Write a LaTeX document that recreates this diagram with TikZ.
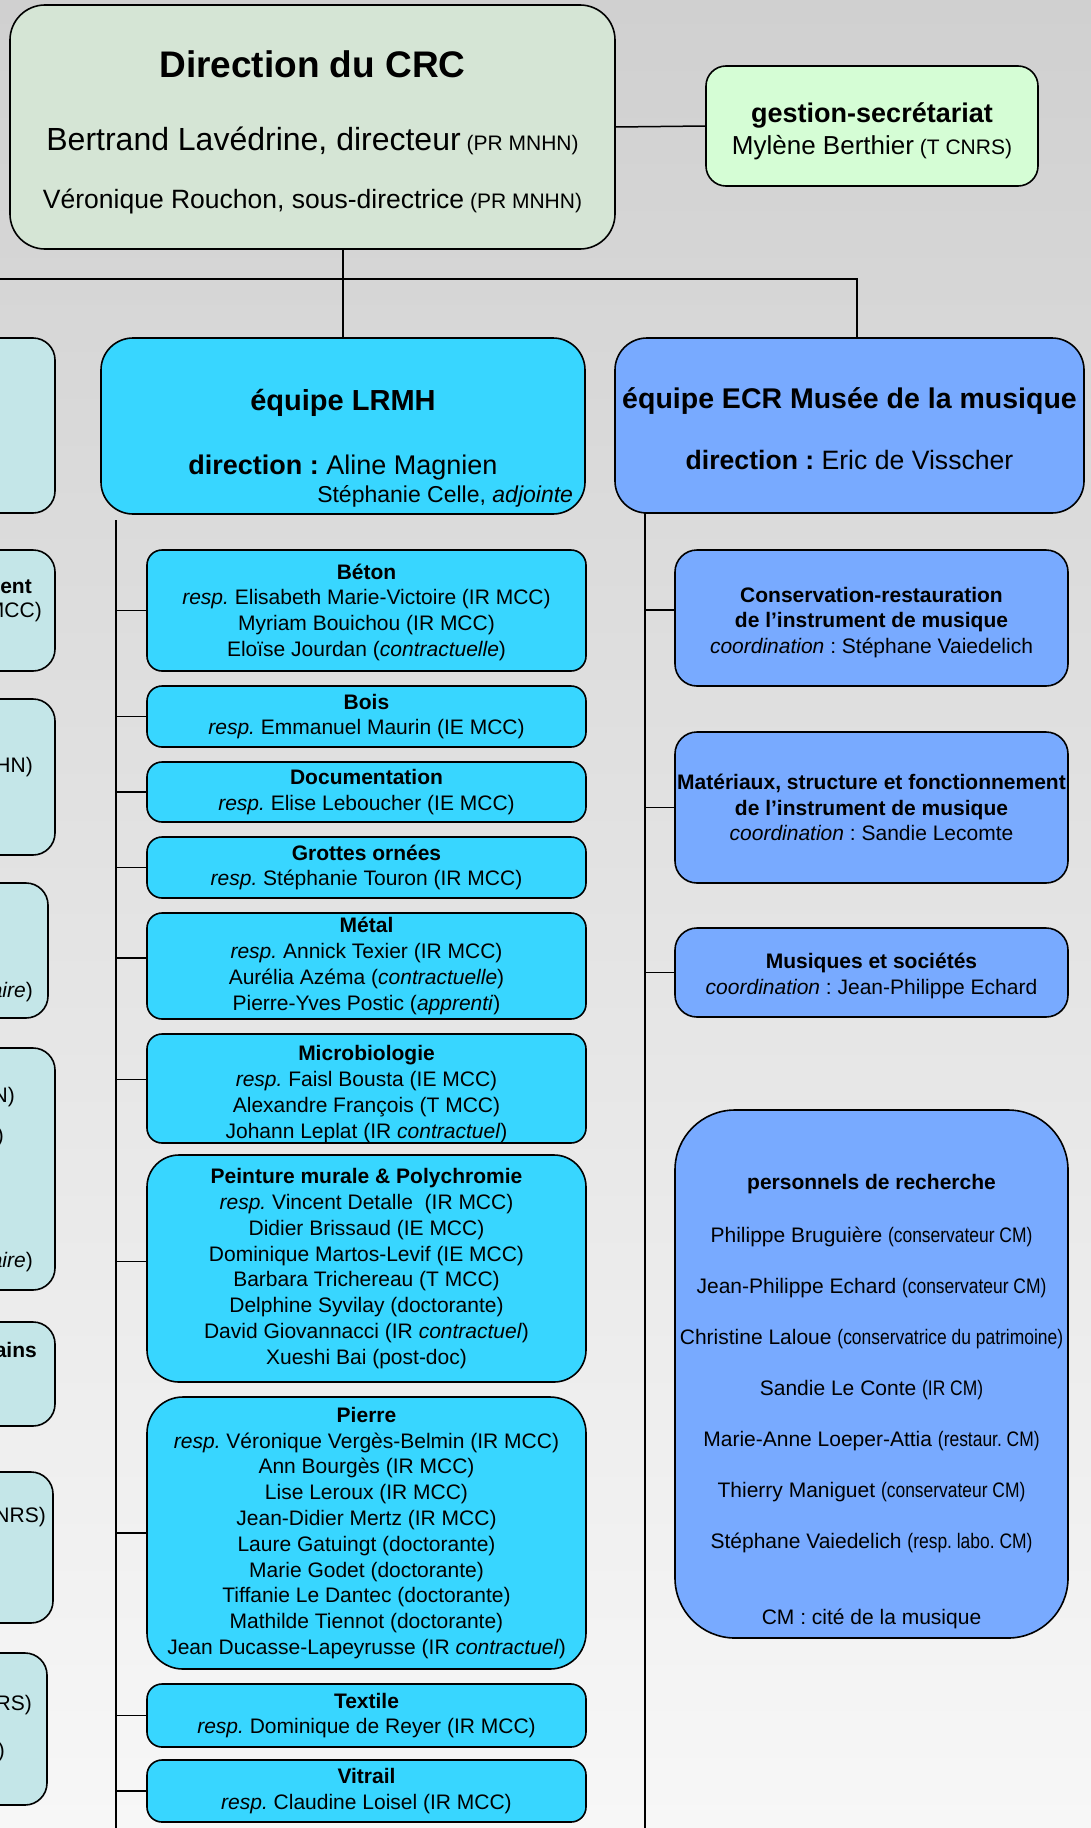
\documentclass[tikz,border=0pt]{standalone}
\usepackage{fontspec}
\setmainfont{Liberation Sans}
\newfontfamily\narrowfont[FakeStretch=0.83]{Liberation Sans}
\definecolor{crcBgTop}{HTML}{D0D0D0}
\definecolor{crcBgBottom}{HTML}{F7F7F7}
\definecolor{crcDir}{HTML}{D5E5D5}
\definecolor{crcSec}{HTML}{D5FDD5}
\definecolor{crcLrmh}{HTML}{38D6FF}
\definecolor{crcEcr}{HTML}{78AAFF}
\definecolor{crcSide}{HTML}{C4E6E8}
\usetikzlibrary{calc,positioning}
\frenchspacing

\begin{document}
\begin{tikzpicture}[x=1pt, y=-1pt,
  crcbox/.style={draw, line width=1.6pt, inner sep=0pt, align=center},
  dirbox/.style={crcbox, fill=crcDir, rounded corners=35pt},
  secbox/.style={crcbox, fill=crcSec, rounded corners=20pt},
  lrmhbox/.style={crcbox, fill=crcLrmh},
  ecrbox/.style={crcbox, fill=crcEcr},
  sidebox/.style={crcbox, fill=crcSide, rounded corners=22pt},
  lrmhsub/.style={lrmhbox, minimum width=439pt, rounded corners=15pt, font=\fontsize{21}{25.8}\selectfont},
  ecrsub/.style={ecrbox, minimum width=393pt, rounded corners=22pt, font=\fontsize{21}{25.5}\selectfont},
  frag/.style={anchor=east, inner sep=0pt, font=\fontsize{21}{25}\selectfont},
  wire/.style={line width=1.5pt}]
  \useasboundingbox (0,0) rectangle (1091,1828);
  \shade[top color=crcBgTop, bottom color=crcBgBottom] (0,0) rectangle (1091,1828);
  \clip (0,0) rectangle (1091,1828);

  % direction
  \node[dirbox, minimum width=605pt, minimum height=244pt, font=\fontsize{21}{58}\selectfont] (dir) at (312.5,127)
    {{\fontsize{37}{40}\selectfont\bfseries\rule{0pt}{38pt}Direction du CRC}\\[15.3pt]
     {\fontsize{32}{36}\selectfont Bertrand Lavédrine, directeur} (PR MNHN)\\
     {\fontsize{26.5}{30}\selectfont Véronique Rouchon, sous-directrice} (PR MNHN)};
  \node[secbox, minimum width=332pt, minimum height=120pt, font=\fontsize{21}{31.7}\selectfont] (sec) at (872,126)
    {{\fontsize{27}{30}\selectfont\bfseries\rule{0pt}{30pt}gestion-secrétariat}\\
     {\fontsize{26}{30}\selectfont Mylène Berthier} (T CNRS)};

  % column on the left, cut by the page
  \node[sidebox, minimum width=155pt, minimum height=175pt] (side1) at (-22.5,425.5) {};
  \node[sidebox, minimum width=155pt, minimum height=121pt] (side2) at (-22.5,610.5) {};
  \node[sidebox, minimum width=155pt, minimum height=156pt] (side3) at (-22.5,777) {};
  \node[sidebox, minimum width=148pt, minimum height=135pt] (side4) at (-26,950.5) {};
  \node[sidebox, minimum width=155pt, minimum height=242pt] (side5) at (-22.5,1169) {};
  \node[sidebox, minimum width=155pt, minimum height=104pt] (side6) at (-22.5,1374) {};
  \node[sidebox, minimum width=153pt, minimum height=151pt] (side7) at (-23.5,1547.5) {};
  \node[sidebox, minimum width=147pt, minimum height=152pt] (side8) at (-26.5,1729) {};
  \node[frag] (frag1) at (32,587) {\textbf{ent}};
  \node[frag] (frag2) at (42,612) {MCC)};
  \node[frag] (frag3) at (33,767) {HN)};
  \node[frag] (frag4) at (33,992) {\textit{aire})};
  \node[frag] (frag5) at (15,1097) {N)};
  \node[frag] (frag6) at (4,1137) {)};
  \node[frag] (frag7) at (33,1262) {\textit{aire})};
  \node[frag] (frag8) at (37,1350) {\textbf{ains}};
  \node[frag] (frag9) at (46,1517) {NRS)};
  \node[frag] (frag10) at (32,1705) {RS)};
  \node[frag] (frag11) at (5,1752) {)};

  % LRMH
  \node[lrmhbox, rounded corners=32pt, minimum width=484pt, minimum height=176pt, text width=460pt, inner xsep=12pt, align=flush center, font=\fontsize{27}{27.6}\selectfont] (lrmh) at (343,426)
    {{\fontsize{29}{30}\selectfont\bfseries\rule{0pt}{66pt}équipe LRMH}\\[36.7pt]
     \textbf{direction :} Aline Magnien\\
     \makebox[\hsize][r]{\fontsize{23}{24}\selectfont Stéphanie Celle, \textit{adjointe}}};
  \node[lrmhsub, minimum height=121pt] (beton) at (366.5,610.5)
    {\rule{0pt}{19pt}\textbf{Béton}\\ \textit{resp.} Elisabeth Marie-Victoire (IR MCC)\\ Myriam Bouichou (IR MCC)\\ Eloïse Jourdan (\textit{contractuelle})};
  \node[lrmhsub, minimum height=61pt] (bois) at (366.5,716.5)
    {\textbf{Bois}\\ \textit{resp.} Emmanuel Maurin (IE MCC)};
  \node[lrmhsub, minimum height=60pt] (doc) at (366.5,792)
    {\textbf{Documentation}\\ \textit{resp.} Elise Leboucher (IE MCC)};
  \node[lrmhsub, minimum height=61pt] (grottes) at (366.5,867.5)
    {\textbf{Grottes ornées}\\ \textit{resp.} Stéphanie Touron (IR MCC)};
  \node[lrmhsub, minimum height=106pt] (metal) at (366.5,966)
    {\textbf{Métal}\\ \textit{resp.} Annick Texier (IR MCC)\\ Aurélia Azéma (\textit{contractuelle})\\ Pierre-Yves Postic (\textit{apprenti})};
  \node[lrmhsub, minimum height=109pt] (micro) at (366.5,1088.5)
    {\rule{0pt}{26pt}\textbf{Microbiologie}\\ \textit{resp.} Faisl Bousta (IE MCC)\\ Alexandre François (T MCC)\\ Johann Leplat (IR \textit{contractuel})};
  \node[lrmhsub, minimum height=227pt, rounded corners=32pt] (peinture) at (366.5,1268.5)
    {\textbf{Peinture murale \& Polychromie}\\ \textit{resp.} Vincent Detalle\ \ (IR MCC)\\ Didier Brissaud (IE MCC)\\
     Dominique Martos-Levif (IE MCC)\\ Barbara Trichereau (T MCC)\\ Delphine Syvilay (doctorante)\\
     David Giovannacci (IR \textit{contractuel})\\ Xueshi Bai (post-doc)};
  \node[lrmhsub, minimum height=272pt, rounded corners=36pt] (pierre) at (366.5,1533)
    {\textbf{Pierre}\\ \textit{resp.} Véronique Vergès-Belmin (IR MCC)\\ Ann Bourgès (IR MCC)\\ Lise Leroux (IR MCC)\\
     Jean-Didier Mertz (IR MCC)\\ Laure Gatuingt (doctorante)\\ Marie Godet (doctorante)\\
     Tiffanie Le Dantec (doctorante)\\ Mathilde Tiennot (doctorante)\\ Jean Ducasse-Lapeyrusse (IR \textit{contractuel})};
  \node[lrmhsub, minimum height=63pt] (textile) at (366.5,1715.5)
    {\textbf{Textile}\\ \textit{resp.} Dominique de Reyer (IR MCC)};
  \node[lrmhsub, minimum height=62pt] (vitrail) at (366.5,1791)
    {\textbf{Vitrail}\\ \textit{resp.} Claudine Loisel (IR MCC)};

  % ECR
  \node[ecrbox, rounded corners=32pt, minimum width=469pt, minimum height=175pt, font=\fontsize{26.6}{30}\selectfont] (ecr) at (849.5,425.5)
    {{\fontsize{28.5}{30}\selectfont\bfseries\rule{0pt}{28pt}équipe ECR Musée de la musique}\\[31pt]
     \textbf{direction :} Eric de Visscher};
  \node[ecrsub, minimum height=136pt] (cons) at (871.5,618)
    {\rule{0pt}{24pt}\textbf{Conservation-restauration}\\ \textbf{de l’instrument de musique}\\ \textit{coordination} : Stéphane Vaiedelich};
  \node[ecrsub, minimum height=151pt] (mat) at (871.5,807.5)
    {\textbf{Matériaux, structure et fonctionnement}\\ \textbf{de l’instrument de musique}\\ \textit{coordination} : Sandie Lecomte};
  \node[ecrsub, minimum height=89pt] (musiq) at (871.5,972.5)
    {\rule{0pt}{22pt}\textbf{Musiques et sociétés}\\ \textit{coordination} : Jean-Philippe Echard};
  \node[ecrbox, rounded corners=60pt, minimum width=393pt, minimum height=528pt, font=\fontsize{21}{51}\selectfont] (perso) at (871.5,1374)
    {\rule{0pt}{70pt}\textbf{personnels de recherche}\\[2pt]
     Philippe Bruguière {\narrowfont(conservateur CM)}\\
     Jean-Philippe Echard {\narrowfont(conservateur CM)}\\
     Christine Laloue {\narrowfont(conservatrice du patrimoine)}\\
     Sandie Le Conte {\narrowfont(IR CM)}\\
     Marie-Anne Loeper-Attia {\narrowfont(restaur. CM)}\\
     Thierry Maniguet {\narrowfont(conservateur CM)}\\
     Stéphane Vaiedelich {\narrowfont(resp. labo. CM)}\\[25pt]
     CM : cité de la musique};

  % links
  \coordinate (busL) at (0,279);
  \coordinate (busR) at (857,279);
  \draw[wire] (dir.east) -- (sec.west);
  \draw[wire] (dir.south -| lrmh.north) -- (lrmh.north);
  \draw[wire] (busL) -- (busR) -- (busR |- ecr.north);

  \coordinate (lrmhTop) at (116,520);
  \coordinate (lrmhEnd) at (116,1828);
  \draw[wire] (lrmhTop) -- (lrmhEnd);
  \foreach \grp/\dy in {beton/0,bois/0,doc/0,grottes/0,metal/8,micro/9,peinture/7,pierre/0,textile/0,vitrail/0}{
    \coordinate (\grp-in) at ($(\grp.west)+(0,-\dy)$);
    \draw[wire] (lrmhTop |- \grp-in) -- (\grp-in);
  }

  \coordinate (ecrTop) at (645,513);
  \coordinate (ecrEnd) at (645,1828);
  \draw[wire] (ecrTop) -- (ecrEnd);
  \foreach \grp/\dy in {cons/8,mat/0,musiq/0}{
    \coordinate (\grp-in) at ($(\grp.west)+(0,-\dy)$);
    \draw[wire] (ecrTop |- \grp-in) -- (\grp-in);
  }
\end{tikzpicture}
\end{document}
